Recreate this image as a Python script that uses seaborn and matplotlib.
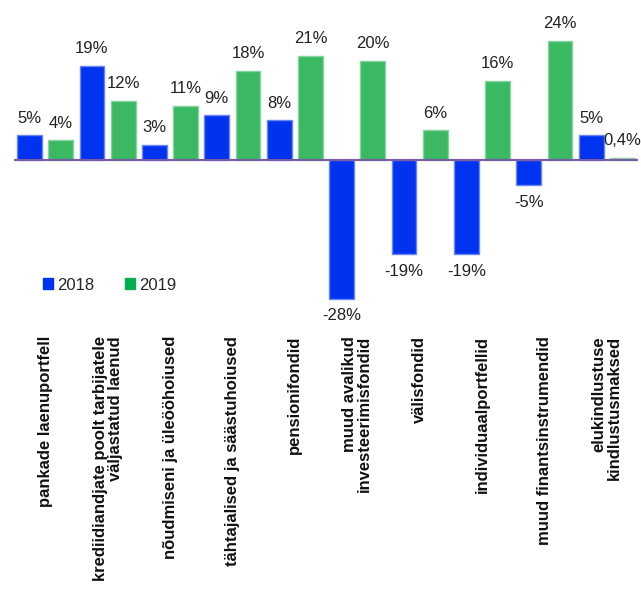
import pandas as pd
import numpy as np
import matplotlib
matplotlib.use("Agg")
import matplotlib.pyplot as plt
from matplotlib.patches import Patch
import seaborn as sns

# data
categories = [
    "pankade laenuportfell",
    "krediidiandjate poolt tarbijatele\nväljastatud laenud",
    "nõudmiseni ja üleööhoiused",
    "tähtajalised ja säästuhoiused",
    "pensionifondid",
    "muud avalikud\ninvesteerimisfondid",
    "välisfondid",
    "individuaalportfellid",
    "muud finantsinstrumendid",
    "elukindlustuse\nkindlustusmaksed",
]
years = ["2018", "2019"]
values_2018 = [5, 19, 3, 9, 8, -28, -19, -19, -5, 5]
values_2019 = [4, 12, 11, 18, 21, 20, 6, 16, 24, 0.4]
labels_2018 = ["5%", "19%", "3%", "9%", "8%", "-28%", "-19%", "-19%", "-5%", "5%"]
labels_2019 = ["4%", "12%", "11%", "18%", "21%", "20%", "6%", "16%", "24%", "0,4%"]

df = pd.DataFrame({
    "kategooria": categories * 2,
    "aasta": ["2018"] * len(categories) + ["2019"] * len(categories),
    "muutus": values_2018 + values_2019,
})

sns.set_style("white")
plt.rcParams["font.family"] = ["Liberation Sans", "DejaVu Sans"]

fig = plt.figure(figsize=(6.41, 5.89), dpi=100)
ax = fig.add_axes([14 / 641, 1 - 325 / 589, 624 / 641, 320 / 589])

bar_cols = {"2018": "#0033f0", "2019": "#3ab862"}
edge_cols = ["#6a86f2", "#86d3a0"]
sns.barplot(data=df, x="kategooria", y="muutus", hue="aasta", palette=bar_cols,
            width=1.0, gap=0.2, ax=ax, legend=False, saturation=1)

for cont, ec, labs in zip(ax.containers, edge_cols, [labels_2018, labels_2019]):
    for b in cont:
        b.set_edgecolor(ec)
        b.set_linewidth(1)
    ax.bar_label(cont, labels=labs, padding=7, fontsize=12, color="#222222")

ax.axhline(0, color="#7b5aa6", lw=1.5, zorder=5)
ax.set_xlim(-0.5, 9.5)
ax.set_ylim(-33.3, 31.3)
ax.set_yticks([])
ax.set_xlabel("")
ax.set_ylabel("")
sns.despine(ax=ax, left=True, bottom=True)
ax.tick_params(axis="x", length=0, pad=8)
ax.set_xticks(range(len(categories)))
ax.set_xticklabels(categories, rotation=90, fontsize=12, fontweight="bold",
                   multialignment="right", color="#111111", linespacing=1.0)

handles = [Patch(color="#0033f0"), Patch(color="#00b050")]
ax.legend(handles, years, loc="center left", bbox_to_anchor=(0.022, 0.125),
          ncol=2, frameon=False, fontsize=12, handlelength=0.6, handleheight=0.6,
          handletextpad=0.25, columnspacing=1.85)

fig.savefig("out.png", dpi=100)
